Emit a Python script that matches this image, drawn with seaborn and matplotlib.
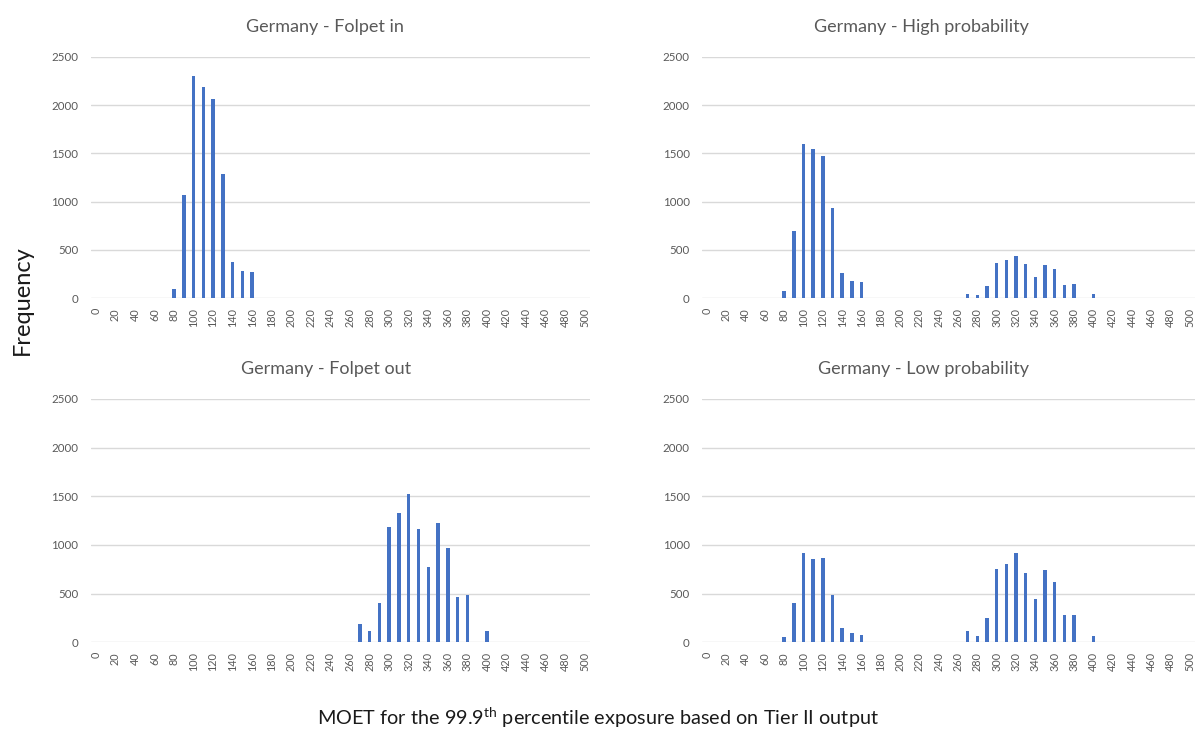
import matplotlib
matplotlib.use("Agg")
import matplotlib.pyplot as plt
import seaborn as sns
import pandas as pd

# MOET bins (0 to 500 in steps of 10)
bins = list(range(0, 510, 10))

folpet_in = [0, 0, 0, 0, 0, 0, 0, 0, 100, 1070,
             2300, 2190, 2060, 1290, 380, 280, 270, 0, 0, 0,
             0, 0, 0, 0, 0, 0, 0, 0, 0, 0,
             0, 0, 0, 0, 0, 0, 0, 0, 0, 0,
             0, 0, 0, 0, 0, 0, 0, 0, 0, 0,
             0]
high_prob = [0, 0, 0, 0, 0, 0, 0, 0, 80, 700,
             1600, 1545, 1470, 930, 265, 180, 170, 0, 0, 0,
             0, 0, 0, 0, 0, 0, 0, 46, 35, 123,
             370, 398, 433, 359, 222, 345, 306, 134, 148, 0,
             40, 0, 0, 0, 0, 0, 0, 0, 0, 0,
             0]
folpet_out = [0, 0, 0, 0, 0, 0, 0, 0, 0, 0,
              0, 0, 0, 0, 0, 0, 0, 0, 0, 0,
              0, 0, 0, 0, 0, 0, 0, 188, 116, 408,
              1182, 1329, 1521, 1164, 777, 1229, 969, 469, 483, 0,
              113, 0, 0, 0, 0, 0, 0, 0, 0, 0,
              0]
low_prob = [0, 0, 0, 0, 0, 0, 0, 0, 50, 400,
            920, 860, 870, 490, 150, 100, 80, 0, 0, 0,
            0, 0, 0, 0, 0, 0, 0, 117, 66, 248,
            755, 800, 914, 714, 448, 741, 621, 276, 276, 0,
            66, 0, 0, 0, 0, 0, 0, 0, 0, 0,
            0]

titles = ["Germany - Folpet in", "Germany - High probability",
          "Germany - Folpet out", "Germany - Low probability"]
series = [folpet_in, high_prob, folpet_out, low_prob]
y_ticks = [0, 500, 1000, 1500, 2000, 2500]

sns.set_theme(style="white")
plt.rcParams["font.family"] = ["Lato", "DejaVu Sans"]
plt.rcParams["mathtext.fontset"] = "custom"
plt.rcParams["mathtext.rm"] = "Lato"

BAR = "#4472C4"
GRID = "#D9D9D9"
TXT = "#595959"

fig = plt.figure(figsize=(11.96, 7.40), dpi=100)

# panel rectangles in figure fraction: left, bottom, width, height
rects = [
    (0.076, 0.597, 0.417, 0.326),
    (0.587, 0.597, 0.412, 0.326),
    (0.076, 0.132, 0.417, 0.329),
    (0.587, 0.132, 0.412, 0.329),
]
title_x = [0.469, 0.446, 0.472, 0.450]

labels = [str(b) for b in bins]
for rect, title, vals, tx in zip(rects, titles, series, title_x):
    ax = fig.add_axes(rect)
    df = pd.DataFrame({"bin": labels, "count": vals})
    sns.barplot(data=df, x="bin", y="count", color=BAR, width=0.36,
                saturation=1, ax=ax, order=labels, linewidth=0)
    ax.set_ylim(0, 2500)
    ax.set_yticks(y_ticks)
    ax.set_yticklabels([str(t) for t in y_ticks], fontsize=8.3, color=TXT)
    ax.set_xticks(range(0, len(bins), 2))
    ax.set_xticklabels(labels[::2], rotation=90, fontsize=7.8, color=TXT)
    ax.set_xlim(-0.5, len(bins) - 0.5)
    ax.yaxis.grid(True, color=GRID, lw=1)
    ax.set_axisbelow(True)
    for s in ax.spines.values():
        s.set_visible(False)
    ax.tick_params(axis="both", length=0)
    ax.tick_params(axis="y", pad=9)
    ax.tick_params(axis="x", pad=7)
    ax.set_xlabel("")
    ax.set_ylabel("")
    ax.set_title(title, x=tx, pad=18, fontsize=13, color=TXT)

fig.text(0.019, 0.595, "Frequency", rotation=90, ha="center", va="center",
         fontsize=17, color="#1a1a1a")
fig.text(0.5, 0.03, "MOET for the 99.9$^{\\mathrm{th}}$ percentile exposure based on Tier II output",
         ha="center", va="center", fontsize=14.3, color="#1a1a1a")

fig.savefig("out.png", dpi=100)
